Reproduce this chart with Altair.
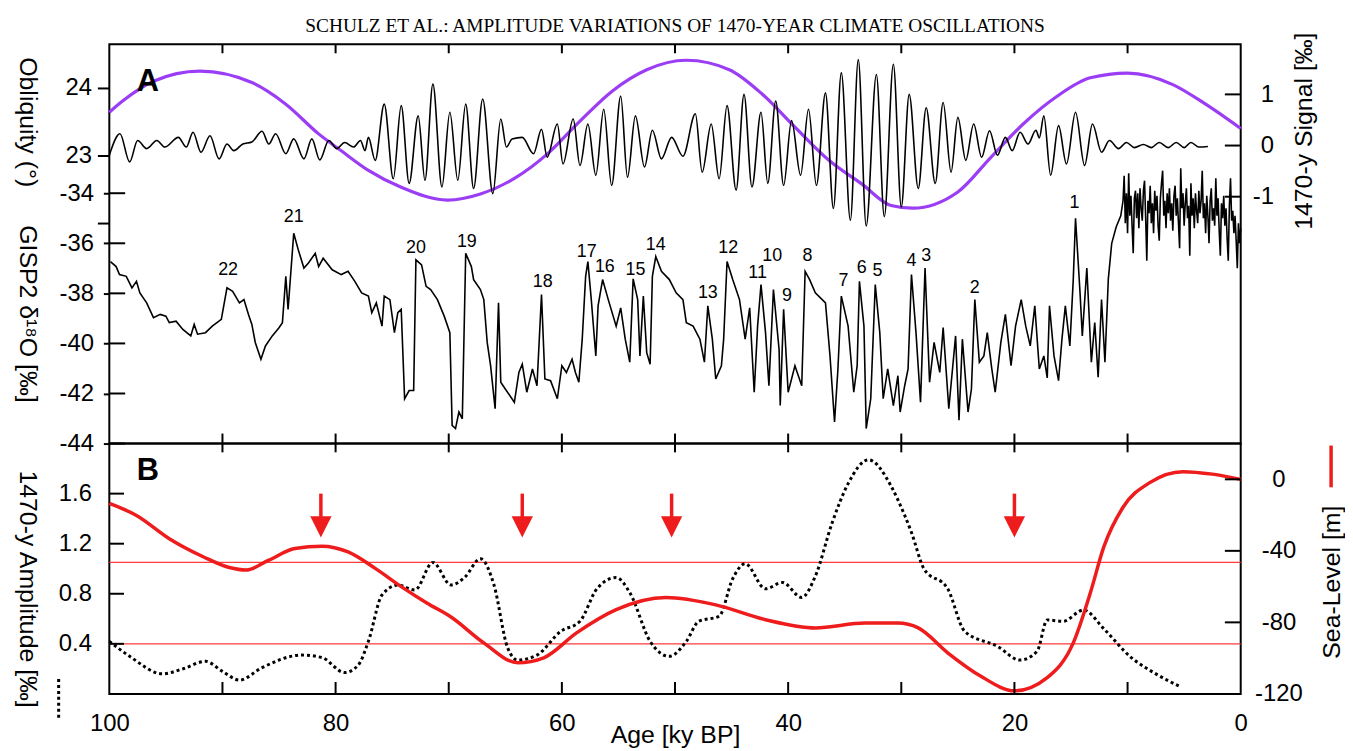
import altair as alt
import pandas as pd

TITLE = "SCHULZ ET AL.: AMPLITUDE VARIATIONS OF 1470-YEAR CLIMATE OSCILLATIONS"

# ---------------- Panel A data ----------------
obl_age = [100, 98.8, 96.1, 92.0, 87.4, 84.4, 81.5, 79.5, 77.1, 74.2, 70.1, 67.2, 64.2, 61.3,
           58.4, 55.5, 52.5, 49.0, 45.2, 42.3, 39.4, 36.4, 33.5, 30.9, 29.0, 25.0, 22.1, 19.2,
           16.2, 13.3, 10.0, 6.0, 3.1, 0.0]
obl_val = [23.64, 23.81, 24.10, 24.25, 24.08, 23.76, 23.32, 23.07, 22.78, 22.53, 22.34, 22.43,
           22.66, 23.02, 23.51, 23.96, 24.27, 24.41, 24.27, 23.91, 23.42, 22.93, 22.58, 22.26,
           22.22, 22.46, 22.97, 23.47, 23.88, 24.15, 24.22, 24.05, 23.76, 23.40]

sig_age = [100.0, 99.06, 98.2, 97.5, 96.7, 95.8, 95.1, 93.9, 93.2, 92.6, 91.9, 91.1, 90.3, 89.6,
           89.0, 88.2, 87.4, 86.5, 85.9, 85.3, 84.4, 83.7, 82.8, 82.1, 81.4, 80.6, 79.9, 79.2,
           78.4, 77.8, 77.4, 77.1, 76.5, 75.7, 74.9, 74.2, 73.5, 72.7, 72.1, 71.4, 70.6, 69.9,
           69.2, 68.5, 67.8, 67.0, 66.1, 65.4, 64.9, 64.4, 63.5, 62.5, 61.8, 61.3, 60.4, 59.9,
           59.0, 58.4, 57.7, 57.0, 56.3, 55.6, 54.8, 54.2, 53.5, 52.7, 52.0, 51.2, 50.3, 49.3,
           48.2, 47.6, 46.8, 46.1, 45.4, 44.6, 43.9, 43.2, 42.4, 41.8, 41.1, 40.4, 39.7, 38.9,
           38.2, 37.5, 36.7, 36.0, 35.3, 34.5, 33.8, 33.1, 32.2, 31.5, 30.7, 30.0, 29.3, 28.5,
           27.8, 27.0, 26.3, 25.6, 25.0, 24.3, 23.6, 22.9, 22.2, 21.5, 20.8, 20.2, 19.5, 18.8,
           18.1, 17.8, 17.4, 16.8, 16.1, 15.4, 14.6, 13.8, 13.1, 12.3, 11.6, 10.8, 10.1, 9.4,
           8.6, 7.9, 7.2, 6.4, 5.7, 5.0, 4.4, 3.7, 2.9]
sig_val = [-0.19, 0.23, -0.32, 0.10, -0.06, 0.10, -0.03, 0.16, -0.03, 0.26, -0.13, 0.19, -0.26, 0.03,
           -0.10, 0.03, 0.07, 0.28, 0.03, 0.23, -0.16, 0.13, -0.26, 0.13, -0.28, 0.10, -0.06, 0.06,
           -0.03, 0.10, -0.10, 0.16, -0.29, 0.81, -0.65, 0.78, -0.74, 0.58, -0.68, 1.20, -0.81, 0.65,
           -0.68, 0.81, -0.84, 0.91, -0.94, 0.52, -0.03, 0.13, 0.16, -0.16, 0.32, -0.23, 0.42, -0.36,
           0.52, -0.39, 0.42, -0.58, 0.71, -0.78, 0.97, -0.62, 0.58, -0.42, 0.30, -0.26, 0.16, -0.21,
           0.62, -0.52, 0.42, -0.65, 0.78, -0.87, 1.00, -0.81, 0.65, -0.74, 0.87, -0.78, 0.49, -0.58,
           0.71, -0.78, 1.03, -1.23, 1.42, -1.46, 1.68, -1.57, 1.39, -1.39, 1.59, -1.20, 1.00, -0.84,
           0.74, -0.74, 0.84, -0.52, 0.55, -0.29, 0.42, -0.23, 0.29, -0.19, 0.16, -0.10, 0.26, 0.03,
           0.30, 0.15, 0.58, -0.58, 0.39, -0.36, 0.65, -0.39, 0.42, -0.13, 0.10, -0.06, 0.06, -0.04,
           0.02, -0.04, 0.06, -0.04, 0.06, -0.04, 0.06, -0.03, -0.02]

gisp_age = [99.9, 99.4, 99.1, 98.5, 98.0, 97.6, 97.3, 96.7, 96.1, 95.5, 95.0, 94.7, 94.1, 93.5,
            92.8, 92.5, 92.2, 91.5, 90.9, 90.1, 89.6, 89.1, 88.5, 88.1, 87.7, 87.4, 87.1, 86.6,
            86.2, 85.6, 85.0, 84.7, 84.4, 84.2, 84.0, 83.7, 83.3, 82.8, 82.4, 81.8, 81.5, 81.1,
            80.3, 79.5, 78.9, 78.3, 77.7, 77.1, 76.8, 76.4, 75.9, 75.7, 75.2, 74.8, 74.5, 74.2,
            73.9, 73.5, 73.1, 72.9, 72.4, 72.0, 71.6, 71.0, 70.4, 69.9, 69.7, 69.4, 69.1, 68.8,
            68.5, 68.0, 67.8, 67.2, 66.9, 66.6, 66.3, 65.9, 65.6, 65.4, 65.0, 64.2, 63.8, 63.5,
            63.1, 62.6, 62.2, 61.8, 61.5, 61.0, 60.4, 60.0, 59.6, 59.1, 58.8, 58.5, 58.2, 57.9,
            57.7, 57.4, 57.0, 56.8, 56.4, 55.9, 55.2, 54.8, 54.4, 54.0, 53.7, 53.3, 53.1, 52.8,
            52.5, 52.2, 52.0, 51.7, 51.2, 50.5, 49.9, 49.3, 49.0, 48.4, 47.8, 47.4, 47.1, 46.7,
            46.4, 45.9, 45.7, 45.4, 44.9, 44.3, 43.8, 43.4, 43.0, 42.7, 42.4, 42.0, 41.7, 41.3,
            40.8, 40.7, 40.4, 40.0, 39.4, 38.8, 38.5, 38.1, 37.6, 36.7, 36.3, 35.9, 35.6, 35.3,
            34.7, 34.2, 33.9, 33.7, 33.3, 33.1, 32.7, 32.3, 31.9, 31.6, 31.2, 30.7, 30.3, 30.1,
            29.7, 29.4, 29.1, 28.7, 28.3, 27.9, 27.5, 27.1, 26.6, 26.3, 25.8, 25.2, 24.9, 24.6,
            24.1, 23.8, 23.5, 23.1, 22.7, 22.4, 22.0, 21.7, 21.2, 20.8, 20.3, 19.9, 19.4, 19.0,
            18.6, 18.2, 17.8, 17.4, 17.1, 16.9, 16.5, 16.1, 15.8, 15.5, 15.1, 14.8, 14.6, 14.2,
            14.0, 13.6, 13.2, 12.9, 12.6, 12.3, 12.0, 11.7, 11.4, 11.0, 10.6,
            10.4, 10.3, 10.2, 10.1, 10.0, 9.9, 9.8, 9.7, 9.6, 9.5, 9.4, 9.3, 9.2, 9.1, 9.0,
            8.9, 8.8, 8.7, 8.6, 8.5, 8.4, 8.3, 8.2, 8.1, 8.0, 7.9, 7.8, 7.7, 7.6, 7.5, 7.4,
            7.3, 7.2, 7.1, 7.0, 6.9, 6.8, 6.7, 6.6, 6.5, 6.4, 6.3, 6.2, 6.1, 6.0, 5.9, 5.8,
            5.7, 5.6, 5.5, 5.4, 5.3, 5.2, 5.1, 5.0, 4.9, 4.8, 4.7, 4.6, 4.5, 4.4, 4.3, 4.2,
            4.1, 4.0, 3.9, 3.8, 3.7, 3.6, 3.5, 3.4, 3.3, 3.2, 3.1, 3.0, 2.9, 2.8, 2.7, 2.6,
            2.5, 2.4, 2.3, 2.2, 2.1, 2.0, 1.9, 1.8, 1.7, 1.6, 1.5, 1.4, 1.3, 1.2, 1.1, 1.0,
            0.9, 0.8, 0.7, 0.6, 0.5, 0.4, 0.3, 0.2, 0.1, 0.0]
gisp_val = [-36.73, -36.93, -37.25, -37.32, -37.78, -37.52, -37.98, -38.38, -38.97, -38.84, -38.91,
            -39.17, -39.11, -39.44, -39.70, -39.24, -39.63, -39.57, -39.31, -39.04, -37.78, -37.92,
            -38.38, -38.25, -38.84, -39.24, -39.96, -40.63, -40.10, -39.70, -39.37, -39.17, -37.32,
            -38.64, -37.42, -35.60, -36.26, -36.99, -36.79, -36.40, -36.93, -36.60, -37.06, -37.25,
            -37.12, -37.52, -37.98, -38.11, -38.77, -38.38, -39.31, -38.11, -38.25, -39.57, -38.77,
            -38.64, -42.21, -41.88, -41.88, -36.66, -36.86, -37.72, -37.85, -38.25, -38.91, -39.57,
            -43.27, -43.40, -42.74, -43.01, -36.40, -36.93, -37.45, -37.85, -38.25, -39.96, -40.89,
            -42.61, -38.38, -41.55, -41.82, -42.35, -41.16, -40.83, -41.95, -41.02, -41.69, -38.05,
            -41.42, -41.49, -42.21, -40.89, -41.16, -40.63, -41.16, -41.55, -39.83, -37.32, -36.73,
            -38.25, -40.50, -38.50, -37.45, -38.25, -39.31, -38.58, -39.83, -40.75, -37.42, -38.25,
            -40.50, -38.11, -40.37, -40.83, -37.32, -36.53, -37.12, -37.45, -37.98, -38.25, -39.17,
            -39.31, -39.83, -40.75, -38.50, -39.83, -41.42, -40.89, -39.83, -36.73, -37.45, -38.25,
            -39.83, -38.58, -41.95, -39.31, -37.65, -39.57, -41.69, -37.85, -40.25, -42.48, -38.64,
            -41.95, -40.89, -41.69, -37.12, -37.45, -37.98, -38.38, -40.50, -43.14, -41.02, -38.11,
            -39.31, -41.95, -40.89, -37.52, -39.31, -43.40, -42.21, -37.65, -39.57, -42.21, -41.02,
            -42.48, -41.29, -42.74, -41.69, -41.02, -37.25, -39.57, -42.35, -36.99, -41.55, -39.96,
            -41.16, -39.37, -42.61, -39.70, -43.07, -39.83, -42.74, -41.82, -38.25, -40.75, -40.50,
            -39.57, -41.02, -41.95, -39.96, -38.84, -40.89, -39.31, -38.25, -39.31, -40.10, -38.50,
            -41.02, -40.50, -41.38, -38.50, -40.50, -41.49, -39.83, -38.50, -40.10, -37.45, -35.00,
            -37.98, -39.70, -36.99, -40.75, -39.17, -41.35, -38.25, -40.75, -37.42, -36.00, -35.34,
            -34.90,
            -34.3, -33.3, -35.2, -34.0, -35.6, -33.2, -34.9, -34.1, -35.3, -36.4, -34.2, -33.9,
            -35.0, -34.0, -35.4, -33.8, -34.6, -35.1, -33.9, -33.5, -35.0, -36.7, -34.3, -34.8,
            -33.7, -35.2, -34.4, -35.6, -33.9, -34.7, -34.1, -35.3, -35.9, -34.2, -33.6, -33.1,
            -34.9, -34.3, -35.4, -34.0, -34.8, -33.8, -35.1, -34.4, -35.5, -34.1, -33.7, -34.9,
            -34.2, -35.2, -36.2, -33.0, -34.6, -34.0, -35.3, -34.4, -33.8, -35.0, -34.5, -36.5,
            -33.6, -34.9, -34.2, -35.4, -34.0, -34.7, -35.2, -33.9, -34.8, -34.3, -33.1, -35.0,
            -34.4, -35.6, -34.1, -34.9, -36.0, -34.3, -33.8, -35.1, -34.6, -35.3, -33.4, -34.9,
            -34.2, -35.5, -36.5, -34.4, -35.0, -34.1, -35.3, -34.6, -35.8, -36.7, -34.5, -33.4,
            -35.1, -34.7, -35.6, -34.9, -35.9, -37.0, -35.2, -36.0, -35.4]

event_label = ["22", "21", "20", "19", "18", "17", "16", "15", "14", "13", "12", "11", "10",
               "9", "8", "7", "6", "5", "4", "3", "2", "1"]
event_age = [89.5, 83.7, 72.9, 68.4, 61.7, 57.8, 56.2, 53.5, 51.7, 47.1, 45.3, 42.7, 41.4,
             40.1, 38.3, 35.1, 33.5, 32.1, 29.1, 27.8, 23.5, 14.7]
event_val = [-37.06, -34.95, -36.18, -35.94, -37.53, -36.34, -36.94, -37.06, -36.06, -38.0,
             -36.2, -37.2, -36.5, -38.1, -36.5, -37.5, -37.0, -37.1, -36.7, -36.5, -37.8, -34.4]

# ---------------- Panel B data ----------------
amp_age = [100.0, 98.2, 95.3, 93.5, 91.5, 90.0, 88.5, 86.5, 83.0, 81.2, 79.2, 78.0, 77.1, 75.9,
           74.5, 73.0, 71.4, 69.8, 68.6, 67.2, 66.0, 64.8, 63.9, 62.2, 60.1, 58.4, 56.9, 55.2,
           54.0, 52.2, 50.5, 49.0, 47.9, 46.1, 44.9, 43.8, 42.0, 40.5, 38.8, 37.6, 36.1, 34.7,
           32.9, 30.9, 30.3, 29.1, 28.0, 25.9, 24.4, 21.5, 19.5, 18.0, 17.1, 15.7, 13.9, 12.1,
           9.8, 7.5, 5.4]
amp_val = [0.42, 0.30, 0.16, 0.20, 0.26, 0.18, 0.11, 0.21, 0.31, 0.29, 0.17, 0.23, 0.42, 0.79,
           0.87, 0.83, 1.05, 0.87, 0.93, 1.08, 0.87, 0.37, 0.27, 0.31, 0.50, 0.58, 0.84, 0.93,
           0.81, 0.42, 0.30, 0.42, 0.58, 0.62, 0.92, 1.04, 0.84, 0.89, 0.77, 0.94, 1.37, 1.68,
           1.87, 1.66, 1.55, 1.29, 1.00, 0.84, 0.50, 0.38, 0.27, 0.34, 0.59, 0.58, 0.67, 0.52,
           0.30, 0.16, 0.06]

sea_age = [100.0, 97.6, 94.7, 91.7, 89.4, 87.9, 85.9, 83.6, 81.2, 78.9, 76.5, 74.2, 71.9, 69.8,
           66.9, 63.9, 61.6, 58.7, 55.2, 50.8, 46.4, 42.0, 37.6, 33.2, 30.3, 28.5, 25.9, 23.0,
           20.0, 17.1, 14.8, 13.3, 12.1, 10.4, 8.0, 5.1, 2.5, 0.0]
sea_val = [-13.5, -20.2, -33.2, -43.3, -49.3, -50.7, -45.2, -38.7, -37.4, -40.6, -49.8, -60.0,
           -69.3, -77.0, -91.5, -102.6, -99.8, -85.9, -72.9, -66.1, -70.2, -78.5, -83.1, -80.4,
           -80.4, -83.1, -97.0, -110.0, -118.3, -110.9, -91.5, -63.7, -37.8, -15.6, -1.7, 4.3,
           2.9, 0.0]

arrow_age = [81.3, 63.5, 50.3, 20.0]
threshold_amp = [1.05, 0.40]

age_labels = [100, 80, 60, 40, 20, 0]
age_minor = [90, 80, 70, 60, 50, 40, 30, 20, 10]
obl_ticks = [22, 23, 24]
gisp_ticks = [-44, -42, -40, -38, -36, -34]
sig_ticks = [-1, 0, 1]
amp_ticks = [0.4, 0.8, 1.2, 1.6]
sea_ticks = [0, -40, -80, -120]

# ---------------- layout / styling ----------------
W, HA, HB = 1139, 402, 252
OBL_DOM = [18.735, 24.647]
SIG_DOM = [-5.826, 1.98]
GISP_DOM = [-44.0, -28.05]
AMP_DOM = [0.0, 2.0]
SEA_DOM = [-120.0, 20.0]
FONT = "Liberation Sans"
LBL = 24
TTL = 25
PURPLE = "#9b3df5"
RED = "#ee1c1c"


def sc(dom):
    return alt.Scale(domain=dom, nice=False, zero=False)


XSCALE = alt.Scale(domain=[0, 100], reverse=True, nice=False, zero=False)
xA = alt.X("age:Q", scale=XSCALE, axis=None)
xB = alt.X("age:Q", scale=XSCALE, axis=alt.Axis(
    orient="bottom", values=age_labels, tickSize=0, labelPadding=18, labelFlush=False,
    labelFontSize=LBL, labelFont=FONT, labelExpr="toString(datum.value)", domain=False,
    grid=False, title="Age [ky BP]", titleFont=FONT, titleFontSize=TTL,
    titleFontWeight="normal", titleY=41, titleBaseline="middle"))


def yaxis(orient, values, title, tx, ty, angle, **kw):
    base = dict(orient=orient, values=values, labelFontSize=LBL, labelFont=FONT,
                labelExpr="toString(datum.value)", domain=False, grid=False, title=title,
                titleFont=FONT, titleFontSize=TTL, titleFontWeight="normal", titleAngle=angle,
                titleX=tx, titleY=ty, titleAlign="center", titleBaseline="middle",
                tickColor="black", tickWidth=2)
    base.update(kw)
    return alt.Axis(**base)


# ---------------- Panel A ----------------
obl_df = pd.DataFrame({"age": obl_age, "v": obl_val})
sig_df = pd.DataFrame({"age": sig_age, "v": sig_val})
gisp_df = pd.DataFrame({"age": gisp_age, "v": gisp_val})
ev_df = pd.DataFrame({"age": event_age, "v": event_val, "lab": event_label})

obl = alt.Chart(obl_df).mark_line(color=PURPLE, strokeWidth=3.2, interpolate="monotone").encode(
    x=xA,
    y=alt.Y("v:Q", scale=sc(OBL_DOM), axis=yaxis(
        "left", obl_ticks, "Obliquity (°)", -82, 78, 90, tickSize=12, labelPadding=6,
        labelExpr="datum.value == 22 ? '' : toString(datum.value)")))

sig = alt.Chart(sig_df).mark_line(color="black", strokeWidth=1.6, interpolate="monotone").encode(
    x=xA,
    y=alt.Y("v:Q", scale=sc(SIG_DOM), axis=yaxis(
        "right", sig_ticks, "1470-y Signal [‰]", 63, 87, 270, tickSize=0, labelPadding=33,
        labelAlign="right")))

gisp = alt.Chart(gisp_df).mark_line(color="black", strokeWidth=1.6).encode(
    x=xA,
    y=alt.Y("v:Q", scale=sc(GISP_DOM), axis=yaxis(
        "left", gisp_ticks, "GISP2 δ¹⁸O [‰]", -82, 271, 90, tickSize=6, labelPadding=10)))

ev = alt.Chart(ev_df).mark_text(font=FONT, fontSize=18, color="black").encode(
    x=xA, y=alt.Y("v:Q", scale=sc(GISP_DOM), axis=None), text="lab:N")

letterA = alt.Chart(pd.DataFrame({"age": [96.6], "v": [-29.55], "t": ["A"]})).mark_text(
    font=FONT, fontSize=31, fontWeight="bold", color="black").encode(
    x=xA, y=alt.Y("v:Q", scale=sc(GISP_DOM), axis=None), text="t:N")

# inward tick marks of panel A (top/bottom frame, left gisp axis, right signal axis)
tA = pd.DataFrame({
    "age": age_minor * 2 + [100.0] * len(gisp_ticks),
    "age2": age_minor * 2 + [98.6] * len(gisp_ticks),
    "y1": [GISP_DOM[1]] * len(age_minor) + [GISP_DOM[0]] * len(age_minor) + gisp_ticks,
    "y2": [GISP_DOM[1] - 0.36] * len(age_minor) + [GISP_DOM[0] + 0.4] * len(age_minor) + gisp_ticks,
})
ticksA = alt.Chart(tA).mark_rule(color="black", strokeWidth=2).encode(
    x=xA, x2="age2:Q", y=alt.Y("y1:Q", scale=sc(GISP_DOM), axis=None), y2="y2:Q")
tS = pd.DataFrame({"age": [1.4] * 3, "age2": [0.0] * 3, "v": sig_ticks})
ticksS = alt.Chart(tS).mark_rule(color="black", strokeWidth=2).encode(
    x=xA, x2="age2:Q", y=alt.Y("v:Q", scale=sc(SIG_DOM), axis=None))

panelA = alt.layer(obl, sig, gisp, ev, letterA, ticksA, ticksS).resolve_scale(
    y="independent").properties(
    width=W, height=HA,
    title=alt.TitleParams(TITLE, font="Liberation Serif", fontSize=19.5, fontWeight="normal",
                          anchor="middle", frame="group", offset=-5, color="black"))

# ---------------- Panel B ----------------
amp_df = pd.DataFrame({"age": amp_age, "v": amp_val})
sea_df = pd.DataFrame({"age": sea_age, "v": sea_val})
thr_df = pd.DataFrame({"v": threshold_amp})
arr_df = pd.DataFrame({"age": arrow_age, "top": [1.6] * 4, "bot": [1.41] * 4, "head": [1.335] * 4})

thr = alt.Chart(thr_df).mark_rule(color="#ff3b3b", strokeWidth=1.3).encode(
    y=alt.Y("v:Q", scale=sc(AMP_DOM), axis=None))

amp = alt.Chart(amp_df).mark_line(color="black", strokeWidth=3, strokeDash=[3, 3],
                                  interpolate="monotone").encode(
    x=xB,
    y=alt.Y("v:Q", scale=sc(AMP_DOM), axis=yaxis(
        "left", amp_ticks, "1470-y Amplitude [‰]", -82, 146, 90, tickSize=0, labelPadding=18)))

sea = alt.Chart(sea_df).mark_line(color=RED, strokeWidth=3.5, interpolate="monotone").encode(
    x=xB,
    y=alt.Y("v:Q", scale=sc(SEA_DOM), axis=yaxis(
        "right", sea_ticks, "Sea-Level [m]", 91, 139, 270, tickSize=0, labelPadding=38,
        labelAlign="center")))

shaft = alt.Chart(arr_df).mark_rule(color=RED, strokeWidth=3.5).encode(
    x=xB, y=alt.Y("top:Q", scale=sc(AMP_DOM), axis=None), y2="bot:Q")
head = alt.Chart(arr_df).mark_point(shape="M -1 -1 L 1 -1 L 0 1 Z", size=460, filled=True,
                                    color=RED, opacity=1).encode(
    x=xB, y=alt.Y("head:Q", scale=sc(AMP_DOM), axis=None))

letterB = alt.Chart(pd.DataFrame({"age": [96.6], "v": [1.78], "t": ["B"]})).mark_text(
    font=FONT, fontSize=31, fontWeight="bold", color="black").encode(
    x=xB, y=alt.Y("v:Q", scale=sc(AMP_DOM), axis=None), text="t:N")

tB = pd.DataFrame({
    "age": age_minor * 2 + [100.0] * len(amp_ticks),
    "age2": age_minor * 2 + [98.7] * len(amp_ticks),
    "y1": [AMP_DOM[1]] * len(age_minor) + [AMP_DOM[0]] * len(age_minor) + amp_ticks,
    "y2": [AMP_DOM[1] - 0.07] * len(age_minor) + [AMP_DOM[0] + 0.095] * len(age_minor) + amp_ticks,
})
ticksB = alt.Chart(tB).mark_rule(color="black", strokeWidth=2).encode(
    x=xB, x2="age2:Q", y=alt.Y("y1:Q", scale=sc(AMP_DOM), axis=None), y2="y2:Q")
tSea = pd.DataFrame({"age": [1.4] * 3, "age2": [0.0] * 3, "v": sea_ticks[:3]})
ticksSea = alt.Chart(tSea).mark_rule(color="black", strokeWidth=2).encode(
    x=xB, x2="age2:Q", y=alt.Y("v:Q", scale=sc(SEA_DOM), axis=None))

# legend keys beside the axis titles
one = pd.DataFrame({"k": [0]})
key_amp = alt.Chart(one).mark_rule(color="black", strokeWidth=3, strokeDash=[3, 3]).encode(
    x=alt.value(-51), y=alt.value(237), y2=alt.value(279))
key_sea = alt.Chart(one).mark_rule(color=RED, strokeWidth=3.5).encode(
    x=alt.value(W + 91), y=alt.value(2), y2=alt.value(44))

panelB = alt.layer(thr, amp, sea, shaft, head, letterB, ticksB, ticksSea, key_amp,
                   key_sea).resolve_scale(y="independent").properties(width=W, height=HB)

chart = alt.vconcat(panelA, panelB, spacing=0, bounds="flush").properties(
    padding={"left": 5, "top": 5, "right": 0, "bottom": 0}
).configure(font=FONT).configure_view(stroke="black", strokeWidth=2).configure_axis(
    labelColor="black", titleColor="black", tickColor="black")

chart.save("out.html", embed_options={"renderer": "svg", "actions": False})
